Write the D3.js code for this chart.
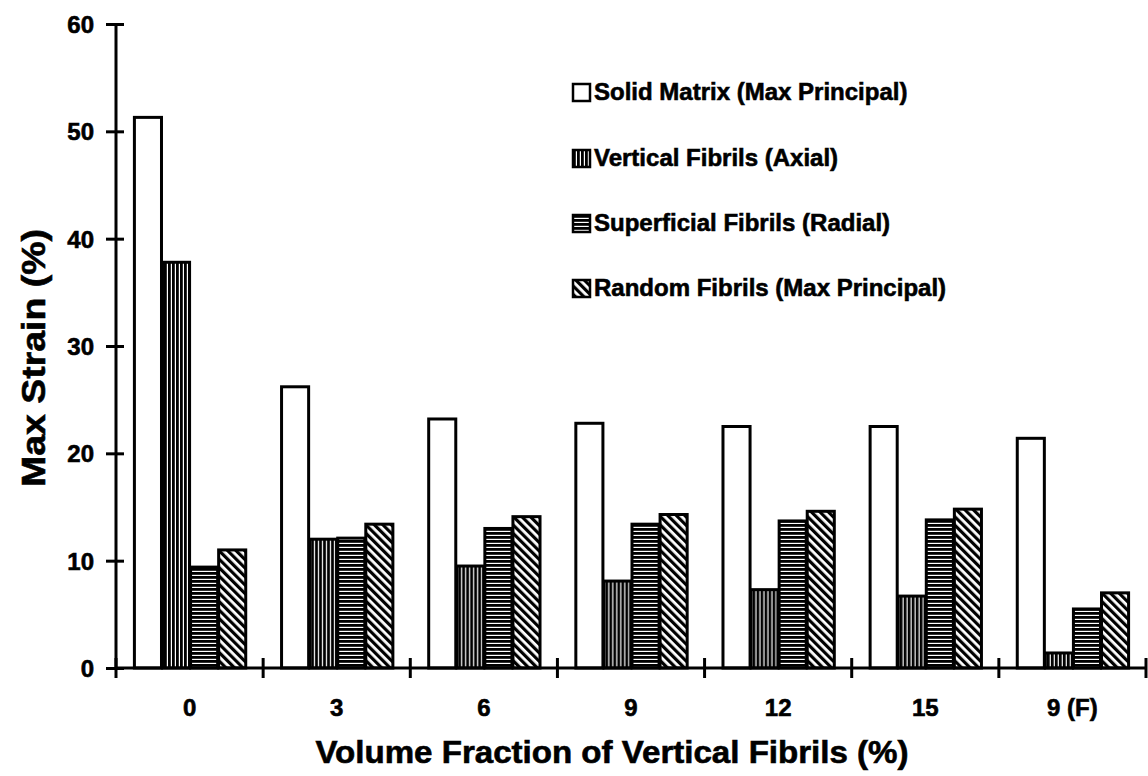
<!DOCTYPE html>
<html>
<head>
<meta charset="utf-8">
<script src="https://cdn.jsdelivr.net/npm/d3@7"></script>
<style>
  html, body { margin: 0; padding: 0; background: #fff; }
  svg { display: block; }
  text { font-family: "Liberation Sans", Arial, Helvetica, sans-serif; font-weight: bold; fill: #000; stroke: #000; stroke-width: 0.6px; }
</style>
</head>
<body>
<svg id="chart" width="1148" height="776"></svg>
<script>
const categories = ["0", "3", "6", "9", "12", "15", "9 (F)"];
const seriesNames = [
  "Solid Matrix (Max Principal)",
  "Vertical Fibrils (Axial)",
  "Superficial Fibrils (Radial)",
  "Random Fibrils (Max Principal)"
];
const solidMatrix        = [51.3, 26.2, 23.2, 22.8, 22.5, 22.5, 21.4];
const verticalFibrils    = [37.8, 12.0,  9.5,  8.1,  7.3,  6.7,  1.4];
const superficialFibrils = [ 9.4, 12.1, 13.0, 13.4, 13.7, 13.8,  5.5];
const randomFibrils      = [11.0, 13.4, 14.1, 14.3, 14.6, 14.8,  7.0];
const yTicks = [0, 10, 20, 30, 40, 50, 60];

const seriesValues = [solidMatrix, verticalFibrils, superficialFibrils, randomFibrils];

(function () {
const svg = d3.select("#chart");
const mLeft = 116, mRight = 1146, mTop = 24, mBottom = 668;

const defs = svg.append("defs");
// vertical lines
const pv = defs.append("pattern").attr("id", "pVert").attr("patternUnits", "userSpaceOnUse")
  .attr("width", 4).attr("height", 4);
pv.append("rect").attr("width", 4).attr("height", 4).attr("fill", "#fff");
pv.append("rect").attr("x", 0).attr("width", 2.8).attr("height", 4).attr("fill", "#000");
// horizontal lines
const ph = defs.append("pattern").attr("id", "pHoriz").attr("patternUnits", "userSpaceOnUse")
  .attr("width", 4).attr("height", 4);
ph.append("rect").attr("width", 4).attr("height", 4).attr("fill", "#fff");
ph.append("rect").attr("y", 0).attr("width", 4).attr("height", 2.8).attr("fill", "#000");
// diagonal hatch "\"
const pd = defs.append("pattern").attr("id", "pDiag").attr("patternUnits", "userSpaceOnUse")
  .attr("width", 6).attr("height", 6).attr("patternTransform", "rotate(-45)");
pd.append("rect").attr("width", 6).attr("height", 6).attr("fill", "#fff");
pd.append("rect").attr("x", 0).attr("width", 3.2).attr("height", 6).attr("fill", "#000");

const fills = ["#fff", "url(#pVert)", "url(#pHoriz)", "url(#pDiag)"];

const x0 = d3.scaleBand().domain(categories).range([mLeft, mRight]).paddingInner(0).paddingOuter(0);
const x1 = d3.scaleBand().domain(d3.range(seriesNames.length)).range([0, x0.bandwidth()])
  .paddingInner(0).paddingOuter(0.62);
const y = d3.scaleLinear().domain([0, 60]).range([mBottom, mTop]);

// bars
const groups = svg.append("g").selectAll("g").data(categories).join("g")
  .attr("transform", d => `translate(${x0(d)},0)`);
groups.selectAll("rect")
  .data((d, i) => seriesValues.map((s, k) => ({ k, v: s[i] })))
  .join("rect")
  .attr("x", d => x1(d.k) + 1)
  .attr("width", x1.bandwidth() - 1)
  .attr("y", d => y(d.v))
  .attr("height", d => y(0) - y(d.v))
  .attr("fill", d => fills[d.k])
  .attr("stroke", "#000")
  .attr("stroke-width", 3);

// y axis
const yAxis = d3.axisLeft(y).tickValues(yTicks).tickSize(10).tickPadding(12).tickFormat(d3.format("d"));
const gy = svg.append("g").attr("transform", `translate(${mLeft},0)`).call(yAxis);
gy.select(".domain").attr("stroke", "#000").attr("stroke-width", 3).attr("d", `M0,${mTop}V${mBottom}`);
gy.selectAll(".tick line").attr("stroke", "#000").attr("stroke-width", 3).attr("x1", 8).attr("x2", -10);
gy.selectAll(".tick text").attr("font-size", 24).attr("dy", "0.35em").attr("x", -22);

// x axis
const xAxis = d3.axisBottom(x0).tickSize(0).tickPadding(0);
const gx = svg.append("g").attr("transform", `translate(0,${mBottom})`).call(xAxis);
gx.select(".domain").attr("stroke", "#000").attr("stroke-width", 3).attr("d", `M${mLeft},0H${mRight + 1}`);
gx.selectAll(".tick text").attr("font-size", 24).attr("y", 48).attr("dy", 0);
// category boundary ticks
const bounds = categories.map(c => x0(c)).concat([x0(categories[categories.length - 1]) + x0.bandwidth()]);
gx.selectAll(".bound").data(bounds).join("line").attr("class", "bound")
  .attr("x1", d => d).attr("x2", d => d).attr("y1", -10).attr("y2", 10)
  .attr("stroke", "#000").attr("stroke-width", 3);

// axis titles
svg.append("text").attr("x", 612).attr("y", 763).attr("text-anchor", "middle")
  .attr("font-size", 31).attr("textLength", 593).attr("lengthAdjust", "spacingAndGlyphs")
  .text("Volume Fraction of Vertical Fibrils (%)");
svg.append("text").attr("transform", "translate(45,358) rotate(-90)").attr("text-anchor", "middle")
  .attr("font-size", 34).attr("textLength", 258).attr("lengthAdjust", "spacingAndGlyphs")
  .text("Max Strain (%)");

// legend
const legendRows = [92, 158, 223, 288];
const lg = svg.append("g").selectAll("g").data(seriesNames).join("g")
  .attr("transform", (d, i) => `translate(573,${legendRows[i]})`);
lg.append("rect").attr("x", 0).attr("y", -8).attr("width", 17).attr("height", 17)
  .attr("fill", (d, i) => fills[i]).attr("stroke", "#000").attr("stroke-width", 2.5);
lg.append("text").attr("x", 21).attr("y", 0).attr("dy", "0.35em").attr("font-size", 24)
  .text(d => d);
})();
</script>
</body>
</html>
